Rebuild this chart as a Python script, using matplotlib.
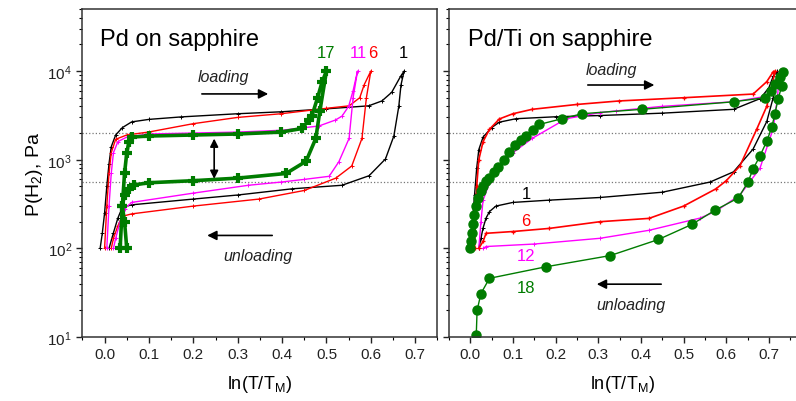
import numpy as np
import matplotlib
matplotlib.use("Agg")
import matplotlib.pyplot as plt
from matplotlib.ticker import MultipleLocator, LogLocator, NullFormatter

plt.rcParams['font.family'] = ['Liberation Sans', 'DejaVu Sans']
plt.rcParams['mathtext.fontset'] = 'custom'
plt.rcParams['mathtext.rm'] = 'Liberation Sans'
plt.rcParams['mathtext.it'] = 'Liberation Sans:italic'

# ---- Pd on sapphire (left panel): loading branch then unloading branch ----
pd_c1_x = [-0.01, -0.005, 0.0, 0.005, 0.01, 0.015, 0.025, 0.04, 0.061, 0.1, 0.173, 0.3, 0.398, 0.5, 0.595, 0.625, 0.647, 0.667, 0.675,
           0.668, 0.663, 0.652, 0.633, 0.596, 0.535, 0.423, 0.3, 0.2, 0.061, 0.04, 0.03, 0.02, 0.01]
pd_c1_p = [100, 150, 250, 500, 900, 1400, 1900, 2300, 2670, 2850, 3040, 3300, 3470, 3750, 4050, 4600, 5750, 8700, 10000,
           7000, 4000, 1860, 1020, 660, 515, 470, 400, 360, 310, 290, 220, 150, 100]

pd_c6_x = [0.0, 0.005, 0.01, 0.015, 0.025, 0.05, 0.099, 0.2, 0.3, 0.398, 0.5, 0.551, 0.575, 0.585, 0.6,
           0.59, 0.58, 0.557, 0.521, 0.45, 0.348, 0.2, 0.061, 0.04, 0.03, 0.02, 0.015]
pd_c6_p = [100, 300, 700, 1200, 1700, 1900, 2050, 2550, 3000, 3300, 3800, 4050, 5000, 7000, 10000,
           5000, 1740, 850, 620, 450, 360, 300, 245, 230, 180, 130, 100]

pd_c11_x = [0.005, 0.01, 0.015, 0.02, 0.03, 0.05, 0.1, 0.2, 0.3, 0.4, 0.483, 0.52, 0.535, 0.55, 0.56, 0.57,
            0.56, 0.551, 0.528, 0.506, 0.45, 0.398, 0.324, 0.2, 0.061, 0.045, 0.035, 0.025, 0.02]
pd_c11_p = [100, 300, 700, 1200, 1600, 1800, 1950, 2000, 2050, 2150, 2400, 2800, 3100, 4000, 6000, 10000,
            5000, 1740, 950, 650, 600, 560, 515, 420, 330, 280, 200, 130, 100]

pd_c17_x = [0.035, 0.04, 0.045, 0.05, 0.055, 0.061, 0.1, 0.2, 0.3, 0.398, 0.445, 0.46, 0.467, 0.48, 0.49, 0.5,
            0.485, 0.476, 0.454, 0.409, 0.3, 0.2, 0.1, 0.067, 0.055, 0.045, 0.04, 0.045, 0.05]
pd_c17_p = [100, 300, 700, 1200, 1600, 1800, 1850, 1900, 1950, 2050, 2250, 2800, 3100, 5000, 7500, 10000,
            3500, 1740, 960, 700, 620, 580, 550, 520, 470, 400, 300, 200, 100]

# ---- Pd/Ti on sapphire (right panel) ----
ti_c1_x = [0.0, 0.005, 0.01, 0.015, 0.02, 0.03, 0.05, 0.068, 0.107, 0.2, 0.304, 0.45, 0.617, 0.68, 0.7, 0.71, 0.72,
           0.71, 0.695, 0.663, 0.617, 0.562, 0.45, 0.304, 0.185, 0.1, 0.06, 0.045, 0.037, 0.03, 0.025, 0.02]
ti_c1_p = [100, 200, 400, 800, 1300, 1800, 2300, 2650, 2900, 3050, 3150, 3350, 3700, 4900, 6500, 8700, 10000,
           5000, 2700, 1320, 730, 560, 430, 375, 350, 330, 300, 260, 220, 170, 130, 100]

ti_c6_x = [0.01, 0.012, 0.015, 0.02, 0.03, 0.045, 0.068, 0.1, 0.145, 0.25, 0.349, 0.5, 0.663, 0.695, 0.71, 0.715,
           0.695, 0.672, 0.632, 0.6, 0.576, 0.5, 0.419, 0.304, 0.185, 0.1, 0.037, 0.03, 0.02]
ti_c6_p = [100, 200, 500, 1000, 1600, 2200, 2880, 3300, 3700, 4200, 4600, 5000, 5500, 7600, 9800, 10000,
           4000, 2240, 850, 580, 470, 300, 218, 200, 168, 155, 148, 120, 100]

ti_c12_x = [0.02, 0.025, 0.03, 0.045, 0.068, 0.1, 0.145, 0.225, 0.304, 0.342, 0.45, 0.616, 0.695, 0.715, 0.725,
            0.72, 0.71, 0.679, 0.632, 0.576, 0.539, 0.419, 0.304, 0.15, 0.037, 0.03]
ti_c12_p = [100, 200, 350, 550, 850, 1200, 1740, 2900, 3400, 3550, 4000, 4500, 5200, 7000, 10000,
            5000, 2240, 800, 400, 263, 220, 160, 130, 112, 105, 100]

ti_c18_x = [0.0, 0.002, 0.004, 0.006, 0.009, 0.013, 0.018, 0.024, 0.03, 0.038, 0.045, 0.055, 0.065, 0.078, 0.091,
            0.105, 0.118, 0.131, 0.147, 0.162, 0.215, 0.262, 0.402, 0.617, 0.69, 0.705, 0.715, 0.725, 0.733,
            0.73, 0.722, 0.714, 0.707, 0.695, 0.679, 0.663, 0.651, 0.628, 0.574, 0.519, 0.441, 0.328, 0.177,
            0.045, 0.025, 0.016, 0.014]
ti_c18_p = [100, 120, 150, 190, 240, 300, 370, 440, 510, 580, 620, 720, 830, 1000, 1230,
            1450, 1650, 1860, 2150, 2500, 2900, 3300, 3700, 4500, 5000, 6000, 7200, 8500, 9800,
            6760, 4900, 3310, 2340, 1620, 1100, 790, 560, 370, 270, 186, 126, 83, 62,
            46, 31, 20, 10.5]

BLACK = '#000000'
RED = '#ff0000'
MAG = '#ff00ff'
GREEN = '#007c00'

fig = plt.figure(figsize=(7.96, 4.02), dpi=100)
ax1 = fig.add_axes([0.1035, 0.159, 0.446, 0.816])
ax2 = fig.add_axes([0.564, 0.159, 0.436, 0.816])

for ax in (ax1, ax2):
    ax.set_yscale('log')
    ax.set_ylim(10, 5e4)
    ax.xaxis.set_major_locator(MultipleLocator(0.1))
    ax.xaxis.set_minor_locator(MultipleLocator(0.05))
    ax.yaxis.set_major_locator(LogLocator(base=10, numticks=10))
    ax.yaxis.set_minor_locator(LogLocator(base=10, subs=np.arange(2, 10), numticks=20))
    ax.yaxis.set_minor_formatter(NullFormatter())
    ax.tick_params(which='major', direction='out', length=4, width=1, labelsize=11, colors='#222222')
    ax.tick_params(which='minor', direction='out', length=2.5, width=0.8)
    for s in ax.spines.values():
        s.set_linewidth(1.1)
        s.set_color('#333333')
    ax.axhline(2000, color='#777777', ls=':', lw=0.9, zorder=0)
    ax.axhline(560, color='#777777', ls=':', lw=0.9, zorder=0)
    ax.set_xlabel('ln(T/T$_\\mathrm{M}$)', fontsize=13, labelpad=8)

ax1.set_xlim(-0.05, 0.75)
ax2.set_xlim(-0.05, 0.7635)
ax2.spines['right'].set_visible(False)
ax2.tick_params(axis='y', labelleft=False)
ax1.set_xticks([0.0, 0.1, 0.2, 0.3, 0.4, 0.5, 0.6, 0.7])
ax2.set_xticks([0.0, 0.1, 0.2, 0.3, 0.4, 0.5, 0.6, 0.7])
ax1.set_ylabel('P(H$_2$), Pa', fontsize=14, labelpad=2)

noisy = dict(marker='+', ms=3, mew=0.7, lw=1.0)
ax1.plot(pd_c1_x, pd_c1_p, color=BLACK, **noisy)
ax1.plot(pd_c6_x, pd_c6_p, color=RED, **noisy)
ax1.plot(pd_c11_x, pd_c11_p, color=MAG, **noisy)
ax1.plot(pd_c17_x, pd_c17_p, color=GREEN, marker='+', ms=7, mew=3, lw=2.6)

ax2.plot(ti_c1_x, ti_c1_p, color=BLACK, **noisy)
ax2.plot(ti_c12_x, ti_c12_p, color=MAG, **noisy)
ax2.plot(ti_c6_x, ti_c6_p, color=RED, marker='+', ms=3, mew=0.9, lw=1.2)
ax2.plot(ti_c18_x, ti_c18_p, color=GREEN, marker='o', ms=6.5, lw=1.0)

# panel titles
ax1.text(0.049, 0.909, 'Pd on sapphire', transform=ax1.transAxes, fontsize=17, va='center', ha='left')
ax2.text(0.055, 0.909, 'Pd/Ti on sapphire', transform=ax2.transAxes, fontsize=17, va='center', ha='left')

arrow = dict(arrowstyle='-|>', color='black', lw=1.2, mutation_scale=14)

# left panel annotations
ax1.text(0.267, 8570, 'loading', style='italic', fontsize=11.5, ha='center', va='center', color='#222222')
ax1.annotate('', xy=(0.375, 5520), xytext=(0.213, 5520), arrowprops=arrow)
ax1.text(0.346, 83, 'unloading', style='italic', fontsize=11.5, ha='center', va='center', color='#222222')
ax1.annotate('', xy=(0.225, 140), xytext=(0.384, 140), arrowprops=arrow)
ax1.annotate('', xy=(0.247, 566), xytext=(0.247, 1860),
             arrowprops=dict(arrowstyle='<|-|>', color='black', lw=1.2, mutation_scale=12))
ax1.text(0.499, 16300, '17', color=GREEN, fontsize=12, ha='center', va='center')
ax1.text(0.573, 16300, '11', color=MAG, fontsize=12, ha='center', va='center')
ax1.text(0.605, 16300, '6', color=RED, fontsize=12, ha='center', va='center')
ax1.text(0.674, 16300, '1', color=BLACK, fontsize=12, ha='center', va='center')

# right panel annotations
ax2.text(0.330, 10500, 'loading', style='italic', fontsize=11.5, ha='center', va='center', color='#222222')
ax2.annotate('', xy=(0.438, 6960), xytext=(0.269, 6960), arrowprops=arrow)
ax2.text(0.377, 23.5, 'unloading', style='italic', fontsize=11.5, ha='center', va='center', color='#222222')
ax2.annotate('', xy=(0.290, 39.5), xytext=(0.454, 39.5), arrowprops=arrow)
ax2.text(0.131, 415, '1', color=BLACK, fontsize=12, ha='center', va='center')
ax2.text(0.131, 207, '6', color=RED, fontsize=12, ha='center', va='center')
ax2.text(0.131, 83, '12', color=MAG, fontsize=12, ha='center', va='center')
ax2.text(0.131, 36.5, '18', color=GREEN, fontsize=12, ha='center', va='center')

fig.savefig('out.png', dpi=100)
